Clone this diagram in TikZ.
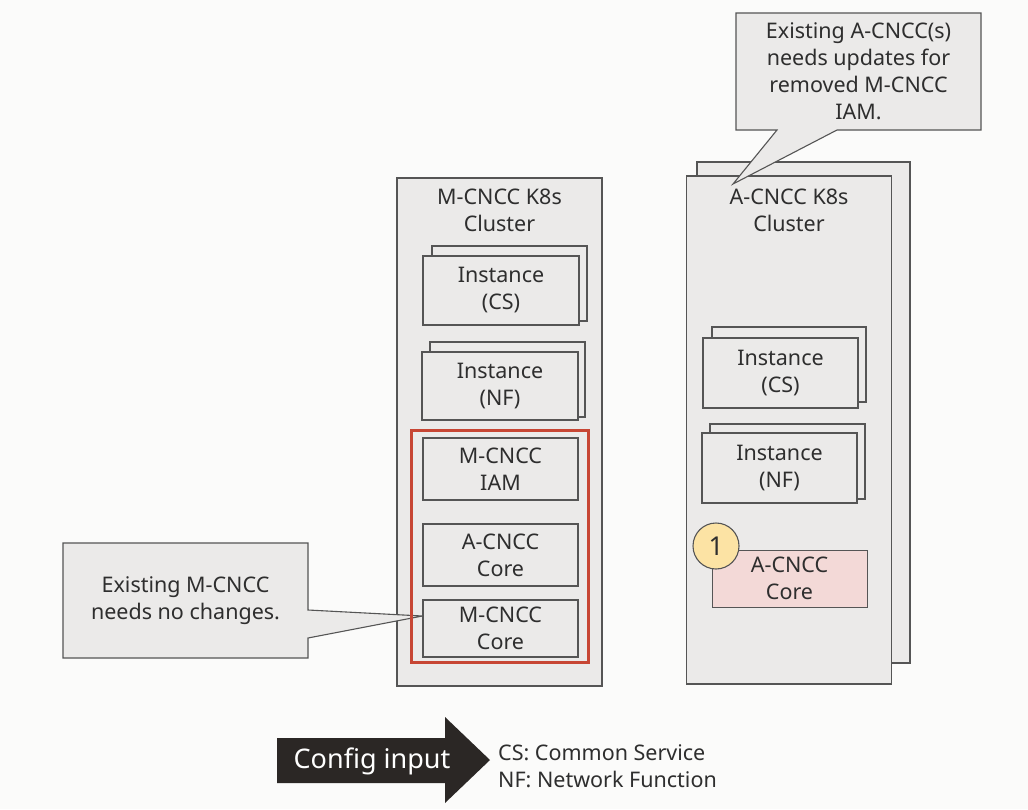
\documentclass[tikz,border=0pt]{standalone}
\usepackage{fontspec}
\setmainfont{Noto Sans}
\usetikzlibrary{calc}
\definecolor{bgcol}{HTML}{FBFBFA}
\definecolor{boxfill}{HTML}{EBEAE9}
\definecolor{boxline}{HTML}{555555}
\definecolor{txt}{HTML}{2E2E2E}
\definecolor{redline}{HTML}{C74634}
\definecolor{pinkfill}{HTML}{F3D9D7}
\definecolor{yellowfill}{HTML}{FCE3A4}
\definecolor{arrowfill}{HTML}{2B2725}
\tikzset{
  box/.style={draw=boxline, fill=boxfill, line width=1.1pt, inner sep=0pt, align=center,
    text=txt, font=\fontsize{21.5}{27}\selectfont},
  lbl/.style={inner sep=0pt, align=center, text=txt, font=\fontsize{21.5}{27}\selectfont},
  callout/.style={draw=boxline, fill=boxfill, line width=1.1pt, line join=miter},
}
\begin{document}
\begin{tikzpicture}[x=1pt,y=-1pt]
\fill[bgcol] (0,0) rectangle (1028,809);
\useasboundingbox (0,0) rectangle (1028,809);

% ---------- M-CNCC cluster ----------
\node[box, minimum width=205pt, minimum height=508pt] (mcl) at (499.5,432) {};
\node[lbl] (mtitle) at (499.5,210) {M-CNCC K8s\\Cluster};
\node[box, minimum width=155pt, minimum height=75pt] (mcsb) at (509.5,283.5) {};
\node[box, minimum width=156pt, minimum height=69pt] (mcs) at (501,290.5) {Instance\\(CS)};
\node[box, minimum width=155pt, minimum height=75pt] (mnfb) at (507.5,379.5) {};
\node[box, minimum width=156pt, minimum height=68pt] (mnf) at (500,386) {Instance\\(NF)};

% ---------- left callout ----------
\coordinate (l1) at (63,543);
\coordinate (l2) at (308,658);
\node[box, draw=none, fill=none, minimum width=155pt, minimum height=57pt] (mcore) at (500.5,628.5) {};
\coordinate (ltip) at ($(mcore.west)+(0,-12.5)$);
\draw[callout] (l1) -| (308,610) -- (ltip) -- (308,638) |- (l2) -| cycle;
\node[lbl] (ltext) at (185.5,601) {Existing M-CNCC\\needs no changes.};

\node[draw=redline, line width=3pt, minimum width=177pt, minimum height=232pt, inner sep=0pt] (red) at (499.5,546) {};
\node[box, minimum width=155pt, minimum height=62pt] (miam) at (500.5,469) {M-CNCC\\IAM};
\node[box, minimum width=155pt, minimum height=62pt] (macore) at (500.5,555) {A-CNCC\\Core};
\node[box, minimum width=155pt, minimum height=57pt] at (500.5,628.5) {M-CNCC\\Core};

% ---------- A-CNCC cluster ----------
\node[box, minimum width=213pt, minimum height=501pt] (aclb) at (803.5,412.5) {};
\node[box, minimum width=205pt, minimum height=508pt] (acl) at (789,430) {};
\node[lbl] (atitle) at (789,210) {A-CNCC K8s\\Cluster};
\node[box, minimum width=154pt, minimum height=75pt] (acsb) at (789,364.5) {};
\node[box, minimum width=155pt, minimum height=70pt] (acs) at (780.5,373) {Instance\\(CS)};
\node[box, minimum width=155pt, minimum height=75pt] (anfb) at (787.5,461.5) {};
\node[box, minimum width=155pt, minimum height=70pt] (anf) at (779.5,468) {Instance\\(NF)};
\node[box, fill=pinkfill, draw=boxline, line width=0.8pt, minimum width=155pt, minimum height=57pt] (acore) at (789.5,578.5) {A-CNCC\\Core};
\node[circle, draw=boxline, line width=1.1pt, fill=yellowfill, minimum size=46pt, inner sep=0pt,
  text=txt, font=\fontsize{26}{26}\selectfont] (one) at (716,546) {1};

% ---------- top callout ----------
\coordinate (t1) at (736,13);
\coordinate (t2) at (981,130);
\coordinate (ttip) at (733,184);
\draw[callout] (t1) -| (t2) -- (837,130) -- (ttip) -- (777,130) -| cycle;
\node[lbl] (ttext) at (858.5,71) {Existing A-CNCC(s)\\needs updates for\\removed M-CNCC\\IAM.};

% ---------- config input arrow ----------
\fill[arrowfill] (277,738) -- (445,738) -- (445,717) -- (490,760) -- (445,803) -- (445,783) -- (277,783) -- cycle;
\node[inner sep=0pt, text=white, font=\fontsize{27}{30}\selectfont] (cfg) at (372,761) {Config input};
\node[lbl, align=left, anchor=west] (legend) at (498,766) {CS: Common Service\\NF: Network Function};
\end{tikzpicture}
\end{document}
